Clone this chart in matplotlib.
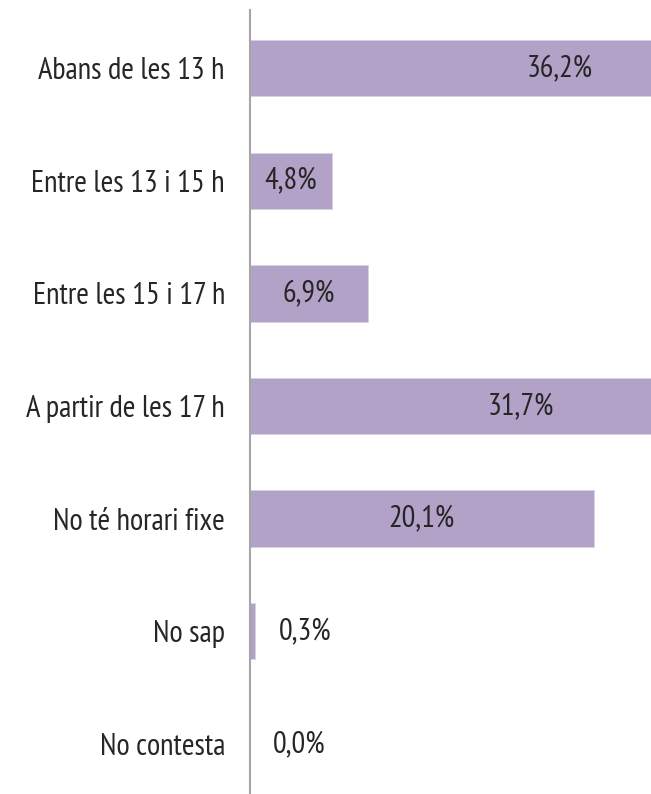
import matplotlib
matplotlib.use("Agg")
import matplotlib.pyplot as plt

# Data
categories = ["Abans de les 13 h", "Entre les 13 i 15 h", "Entre les 15 i 17 h",
              "A partir de les 17 h", "No té horari fixe", "No sap", "No contesta"]
values = [36.2, 4.8, 6.9, 31.7, 20.1, 0.3, 0.0]
labels = ["36,2%", "4,8%", "6,9%", "31,7%", "20,1%", "0,3%", "0,0%"]

plt.rcParams["font.family"] = ["PT Sans Narrow", "DejaVu Sans"]

fig = plt.figure(figsize=(6.51, 7.94), dpi=100)
ax = fig.add_axes([250 / 651, 0, 1 - 250 / 651, 1 - 10 / 794])

pos = list(range(len(categories)))
ax.barh(pos, values, height=0.5, color="#b3a2c7", edgecolor="#d8d0e4", linewidth=0.6)

ax.set_xlim(0, 401 / 17.1)
ax.set_ylim(6.444, -0.515)

for p, v, t in zip(pos, values, labels):
    # small values are written outside the bar
    x = v / 2 if v > 3 else v + 2.9
    ax.text(x, p, t, ha="center", va="center", fontsize=22, color="#262626")

ax.set_yticks(pos)
ax.set_yticklabels(categories, fontsize=22, color="#262626")
ax.tick_params(axis="y", length=0, pad=18)
ax.set_xticks([])
for s in ["top", "right", "bottom"]:
    ax.spines[s].set_visible(False)
ax.spines["left"].set_color("#a6a6a6")
ax.spines["left"].set_linewidth(1.5)

plt.savefig("out.png", dpi=100)
